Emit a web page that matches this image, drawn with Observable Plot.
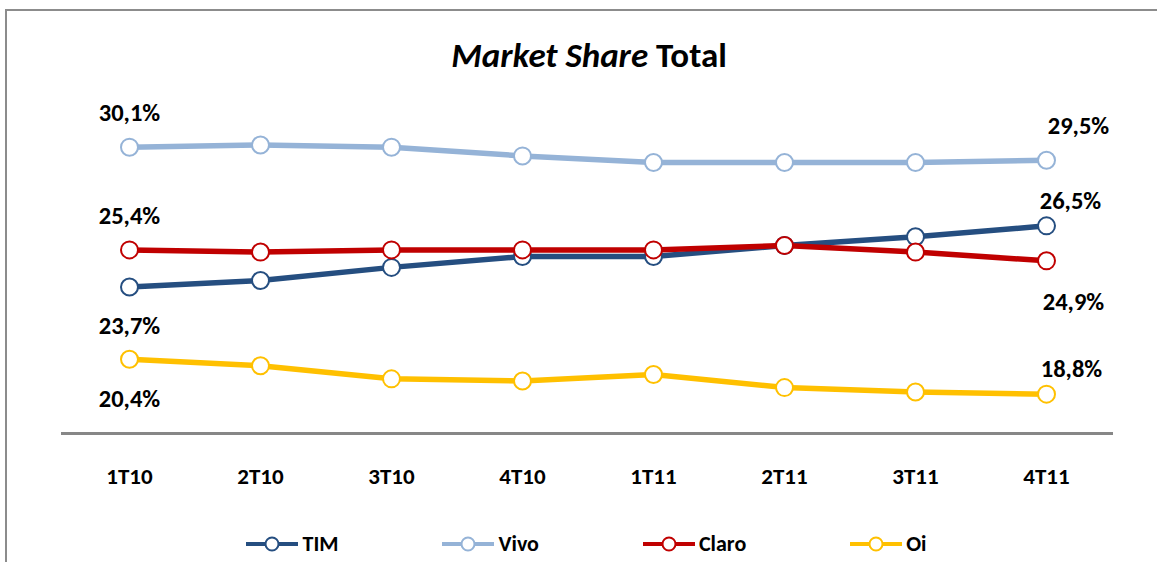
<!DOCTYPE html>
<html>
<head>
<meta charset="utf-8">
<script src="https://cdn.jsdelivr.net/npm/d3@7"></script>
<script src="https://cdn.jsdelivr.net/npm/@observablehq/plot@0.6"></script>
<style>
  html, body { margin: 0; padding: 0; background: #fff; overflow: hidden; }
  #page { position: relative; width: 1157px; height: 562px; overflow: hidden; background: #fff;
          font-family: Carlito, Calibri, Lato, "Open Sans", sans-serif; }
  #frame { position: absolute; left: 5px; top: 9px; width: 1300px; height: 700px;
           border: 2px solid #8c8c8c; box-sizing: border-box; }
  #title { position: absolute; left: 0; width: 1178px; top: 34px; text-align: center;
           font-size: 35px; font-weight: bold; color: #000; line-height: 42px; }
  #chart { position: absolute; left: 0; top: 0; }
  #legend { position: absolute; left: 0; top: 532px; width: 1157px; display: flex;
            justify-content: center; gap: 104px; padding-left: 16px; box-sizing: border-box; }
  .item { display: flex; align-items: center; gap: 4px; font-size: 22px; font-weight: bold; color: #000; line-height: 24px; }
  .item svg { display: block; }
</style>
</head>
<body>
<div id="page">
  <div id="frame"></div>
  <div id="title"><i>Market Share</i> Total</div>
  <div id="chart"></div>
  <div id="legend"></div>
</div>
<script>
// ---- data ----
const quarters = ["1T10", "2T10", "3T10", "4T10", "1T11", "2T11", "3T11", "4T11"];
const seriesNames = ["TIM", "Vivo", "Claro", "Oi"];
const tim   = [23.7, 24.0, 24.6, 25.1, 25.1, 25.6, 26.0, 26.5];
const vivo  = [30.1, 30.2, 30.1, 29.7, 29.4, 29.4, 29.4, 29.5];
const claro = [25.4, 25.3, 25.4, 25.4, 25.4, 25.6, 25.3, 24.9];
const oi    = [20.4, 20.1, 19.5, 19.4, 19.7, 19.1, 18.9, 18.8];

// ---- styles ----
const colors = { TIM: "#254e80", Vivo: "#95b3d7", Claro: "#c00000", Oi: "#ffc000" };
const FONT = "Carlito, Calibri, Lato, 'Open Sans', sans-serif";
// label placement (first point / last point), in pixels
const place = {
  TIM:   { first: [0, 39],  last: [24, -25] },
  Vivo:  { first: [0, -34], last: [32, -34] },
  Claro: { first: [0, -34], last: [27, 41] },
  Oi:    { first: [0, 40],  last: [25, -25] }
};

const valuesBySeries = { TIM: tim, Vivo: vivo, Claro: claro, Oi: oi };
const rows = seriesNames.map(s => quarters.map((q, i) => ({ series: s, quarter: q, value: valuesBySeries[s][i] })));
const fmt = v => d3.format(".1f")(v).replace(".", ",") + "%";

const marks = [
  Plot.ruleY([17], { stroke: "#878787", strokeWidth: 3 }),
  Plot.text(quarters, { x: d => d, y: () => 17, text: d => d, dy: 43,
    fontSize: 23, fontWeight: "bold", fill: "#000", fontFamily: FONT })
];

for (const s of seriesNames) {
  const data = rows[seriesNames.indexOf(s)];
  marks.push(Plot.line(data, { x: "quarter", y: "value", stroke: colors[s], strokeWidth: 5.5, curve: "linear" }));
  marks.push(Plot.dot(data, { x: "quarter", y: "value", r: 8.5, fill: "#fff", stroke: colors[s], strokeWidth: 2 }));
}
for (const s of seriesNames) {
  const data = rows[seriesNames.indexOf(s)];
  const first = data[0], last = data[data.length - 1];
  marks.push(Plot.text([first], { x: "quarter", y: "value", text: d => fmt(d.value),
    dx: place[s].first[0], dy: place[s].first[1], fontSize: 24.5, fontWeight: "bold", fill: "#000", fontFamily: FONT }));
  marks.push(Plot.text([last], { x: "quarter", y: "value", text: d => fmt(d.value),
    dx: place[s].last[0], dy: place[s].last[1], fontSize: 24.5, fontWeight: "bold", fill: "#000", fontFamily: FONT }));
}

const chart = Plot.plot({
  width: 1157,
  height: 520,
  marginLeft: 61,
  marginRight: 44,
  marginTop: 127,
  marginBottom: 87,
  x: { type: "point", domain: quarters, padding: 0.5, axis: null },
  y: { domain: [17, 31], axis: null },
  style: { background: "transparent", fontFamily: FONT, overflow: "visible" },
  marks
});
document.getElementById("chart").appendChild(chart);

// ---- legend ----
const legend = document.getElementById("legend");
for (const s of seriesNames) {
  const item = document.createElement("div");
  item.className = "item";
  const ns = "http://www.w3.org/2000/svg";
  const svg = document.createElementNS(ns, "svg");
  svg.setAttribute("width", 52); svg.setAttribute("height", 20);
  const ln = document.createElementNS(ns, "line");
  ln.setAttribute("x1", 0); ln.setAttribute("x2", 52); ln.setAttribute("y1", 10); ln.setAttribute("y2", 10);
  ln.setAttribute("stroke", colors[s]); ln.setAttribute("stroke-width", 4);
  const c = document.createElementNS(ns, "circle");
  c.setAttribute("cx", 26); c.setAttribute("cy", 10); c.setAttribute("r", 6.5);
  c.setAttribute("fill", "#fff"); c.setAttribute("stroke", colors[s]); c.setAttribute("stroke-width", 2);
  svg.appendChild(ln); svg.appendChild(c);
  const label = document.createElement("span");
  label.textContent = s;
  item.appendChild(svg); item.appendChild(label);
  legend.appendChild(item);
}
</script>
</body>
</html>
